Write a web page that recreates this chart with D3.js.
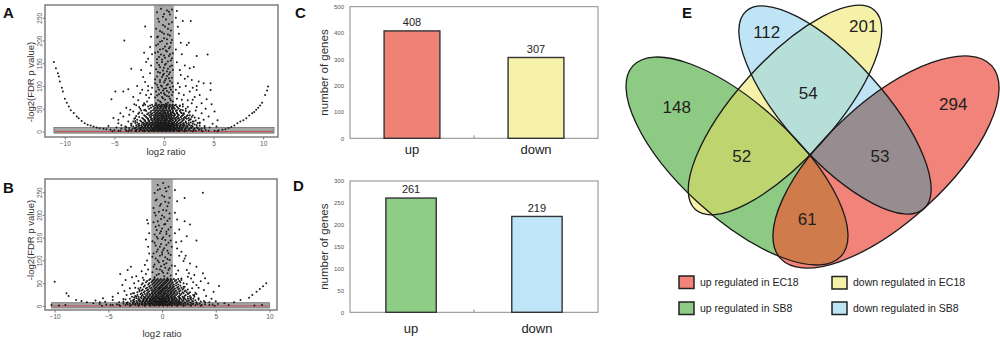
<!DOCTYPE html>
<html>
<head>
<meta charset="utf-8">
<script src="https://cdn.jsdelivr.net/npm/d3@7/dist/d3.min.js"></script>
<style>
  body { margin: 0; background: #fff; }
  svg { display: block; font-family: "Liberation Sans", Arial, sans-serif; }
</style>
</head>
<body>
<svg id="fig" width="1000" height="340"></svg>
<script>
// ---------- values ----------
const volcanoXTicks = [-10, -5, 0, 5, 10];
const volcanoYTicks = [0, 50, 100, 150, 200, 250];

// A (EC18): log2 ratio, -log2(FDR p)
const armA = [[-11.1,153],[-10.9,139],[-10.7,128],[-10.6,121],[-10.5,110],[-10.3,96],[-10.2,88],[-10.0,72],[-9.8,63],[-9.6,55],
  [-9.4,47],[-9.1,41],[-8.8,33],[-8.6,29],[-8.3,23],[-8.0,18],[-7.7,15],[-7.4,13],[-7.1,11],[-6.8,9],[-6.5,7],[-6.1,6],
  [-5.8,5],[-5.4,4],[-5.0,3],[-4.6,2],[10.5,99],[10.4,90],[10.2,80],[9.9,63],[9.7,57],[9.5,52],[9.3,48],[9.1,43],[8.9,40],
  [8.6,35],[8.3,29],[8.0,25],[7.7,22],[7.4,18],[7.1,13],[6.8,10],[6.5,8],[6.2,5],[5.9,4],[5.5,3],[5.1,2]];
const sparseA = [[-4.0,200],[-3.3,138],[-1.9,231],[-2.0,173],[-1.8,153],[-2.3,135],[-2.1,120],[-1.9,109],[-4.9,88],[-4.1,88],
  [-3.6,93],[-5.3,71],[-3.8,52],[-3.1,76],[-2.6,69],[-2.4,84],[-2.8,58],[-3.1,44],[-3.5,37],[-4.1,33],[-3.6,22],[-4.6,18],
  [1.9,243],[1.3,265],[2.7,243],[2.5,195],[2.3,190],[3.3,166],[4.4,169],[3.0,142],[2.6,139],[2.1,145],[1.7,124],[2.1,116],
  [2.4,121],[2.8,113],[4.7,106],[4.7,91],[4.0,106],[3.6,80],[3.1,76],[3.3,91],[2.6,88],[4.3,71],[3.8,62],[5.1,44],[3.8,40],
  [3.3,54],[2.8,62],[4.5,33],[4.0,26],[3.5,29],[2.4,69],[2.4,54],[2.4,36],[3.0,22],[4.9,17],[-1.4,186],[-1.3,208],[1.5,215],
  [1.8,170],[-1.6,100],[-2.7,100],[1.6,98],[2.0,80],[1.9,60],[-2.0,62],[-1.9,48],[3.5,110],[-2.9,30],[2.2,30]];
const haloA = [[-5.6,12],[-4.8,9],[-4.3,14],[-3.9,11],[-4.6,26],[-4.4,40],[-3.4,48],[-3.0,60],[-2.6,39],[-2.9,23],[-3.3,17],
  [-5.1,30],[-2.3,46],[-2.5,54],[-2.1,58],[-1.7,66],[-1.5,74],[-1.3,82],[-1.6,90],[-1.2,96],[-1.4,128],[-1.3,145],[-1.6,160],
  [-1.2,170],[-2.2,92],[-1.8,80],[1.3,72],[1.5,84],[1.2,92],[1.4,106],[1.6,135],[1.3,152],[1.2,180],[1.7,195],[1.4,230],
  [1.2,250],[1.8,70],[2.2,50],[2.6,44],[2.9,35],[3.2,46],[3.6,18],[4.1,12],[4.6,9],[3.4,8],[5.3,11],[2.7,27],[3.1,31],
  [2.0,40],[1.7,48],[1.6,56],[2.9,70],[3.3,100],[2.9,96],[2.2,100],[4.2,50],[4.8,60],[5.4,25]];
const columnA = [[-0.8,62],[-0.3,64],[0.4,63],[0.9,66],[-0.6,69],[0.1,70],[0.6,72],[-0.9,75],[-0.2,76],[0.3,78],[0.8,80],
  [-0.5,82],[0.0,84],[0.5,86],[-0.8,88],[-0.1,90],[0.7,92],[0.2,95],[-0.6,97],[0.9,99],[-0.3,101],[0.4,104],[-0.9,106],
  [0.0,108],[0.6,111],[-0.4,113],[0.2,116],[0.8,118],[-0.7,121],[-0.1,124],[0.5,126],[-0.4,129],[0.3,132],[0.9,135],
  [-0.8,137],[0.0,140],[0.6,143],[-0.5,146],[0.2,149],[-0.2,153],[0.7,156],[-0.7,159],[0.1,162],[0.5,166],[-0.3,169],
  [0.9,172],[-0.6,175],[0.2,178],[-0.1,182],[0.6,186],[-0.8,189],[0.3,193],[-0.4,197],[0.8,201],[0.0,205],[-0.6,209],
  [0.4,213],[-0.2,218],[0.7,222],[-0.8,226],[0.1,231],[0.5,236],[-0.5,241],[0.2,246],[-0.1,252],[0.6,257],[-0.7,262],
  [0.3,266],[-0.3,270],[0.8,268],[0.2,61],[-0.4,66],[0.7,68],[-0.1,73],[0.5,77],[-0.7,79],[0.1,81],[-0.3,85],[0.9,87],
  [0.3,89],[-0.5,92],[0.0,94],[0.6,97],[-0.2,99],[0.3,102],[-0.7,103],[0.8,107],[-0.4,109],[0.1,112],[-0.9,115],[0.5,117],
  [-0.2,120],[0.3,122],[0.0,127],[-0.6,131],[0.6,130],[-0.1,134],[0.4,138],[-0.4,141],[0.8,145],[0.1,147],[-0.7,151],
  [0.4,154],[-0.2,158],[0.8,161],[-0.5,164],[0.0,167],[0.6,170],[-0.9,173],[0.3,176],[-0.4,180],[0.5,183],[0.1,187],
  [-0.6,192],[0.7,195],[-0.2,199],[0.3,203],[-0.7,207],[0.6,211],[0.0,215],[-0.4,221],[0.4,226],[-0.1,234],[0.8,240],
  [-0.6,248],[0.0,258],[0.5,263]];
const coreRowsA = [
  [0.5, [-5.2,-3.6,-2.8,-2.0,-1.5,-1.0,-0.6,-0.2,0.2,0.6,1.0,1.5,2.1,2.9,3.9,5.4]],
  [2, [-4.4,-3.8,-3.3,-2.9,-2.5,-2.2,-1.9,-1.6,-1.3,-1.1,-0.8,-0.6,-0.4,-0.2,0,0.2,0.4,0.6,0.8,1.0,1.3,1.6,1.9,2.3,2.7,3.2,3.8,4.5]],
  [3.5, [-3.5,-2.8,-2.4,-2.0,-1.7,-1.4,-1.2,-0.9,-0.6,-0.4,-0.2,0,0.2,0.4,0.6,0.9,1.1,1.4,1.7,2.1,2.5,3.0,3.5,4.2]],
  [5, [-3.9,-3.2,-2.7,-2.3,-2.0,-1.7,-1.4,-1.1,-0.9,-0.7,-0.5,-0.3,-0.1,0.1,0.3,0.5,0.7,0.9,1.2,1.5,1.8,2.1,2.5,3.0,3.6]],
  [6.5, [-4.3,-3.0,-2.5,-2.1,-1.8,-1.5,-1.2,-1.0,-0.7,-0.5,-0.3,-0.1,0.1,0.3,0.5,0.7,1.0,1.2,1.5,1.8,2.2,2.6,3.1,3.8]],
  [8, [-3.5,-2.9,-2.4,-2.1,-1.8,-1.5,-1.2,-1.0,-0.8,-0.6,-0.4,-0.2,0,0.2,0.4,0.6,0.8,1.0,1.3,1.6,1.9,2.3,2.8,3.4,4.1]],
  [9.5, [-3.8,-2.8,-2.3,-1.9,-1.6,-1.3,-1.0,-0.8,-0.6,-0.4,-0.2,0,0.2,0.4,0.6,0.9,1.1,1.4,1.8,2.2,2.7,3.3]],
  [11, [-3.1,-2.6,-2.2,-1.9,-1.6,-1.3,-1.0,-0.7,-0.5,-0.3,-0.1,0.1,0.3,0.5,0.7,1.0,1.3,1.6,2.0,2.4,2.9]],
  [12.5, [-3.3,-2.5,-2.0,-1.7,-1.4,-1.2,-0.9,-0.7,-0.5,-0.2,0,0.2,0.4,0.6,0.8,1.1,1.3,1.6,1.9,2.3,2.8,3.6]],
  [14, [-2.8,-2.3,-1.9,-1.6,-1.3,-1.1,-0.8,-0.6,-0.4,-0.2,0,0.2,0.4,0.6,0.9,1.1,1.4,1.7,2.1,2.6,3.3]],
  [15.5, [-2.6,-2.1,-1.8,-1.5,-1.2,-0.9,-0.7,-0.5,-0.3,-0.1,0.1,0.3,0.5,0.8,1.0,1.3,1.7,2.0,2.5,3.1]],
  [17, [-3.3,-2.5,-2.0,-1.7,-1.4,-1.1,-0.9,-0.6,-0.4,-0.2,0,0.2,0.5,0.7,0.9,1.2,1.5,1.9,2.3,2.9]],
  [18.5, [-2.9,-2.2,-1.8,-1.5,-1.2,-0.9,-0.7,-0.4,-0.2,0.1,0.3,0.5,0.8,1.0,1.3,1.6,2.0,2.5,3.4]],
  [20, [-2.7,-2.1,-1.7,-1.3,-1.0,-0.7,-0.5,-0.3,-0.1,0.1,0.3,0.5,0.8,1.0,1.3,1.7,2.2,2.7,3.6]],
  [22, [-3.1,-2.3,-1.9,-1.5,-1.1,-0.8,-0.6,-0.3,0,0.2,0.5,0.7,1.1,1.4,1.8,2.2,2.9]],
  [24, [-2.4,-1.9,-1.5,-1.2,-0.9,-0.6,-0.4,-0.2,0,0.2,0.4,0.6,0.9,1.2,1.5,1.9,2.5,3.2]],
  [26, [-2.7,-2.0,-1.6,-1.3,-1.0,-0.7,-0.5,-0.2,0.1,0.3,0.6,0.8,1.2,1.6,2.0,2.6]],
  [28, [-3.0,-2.1,-1.6,-1.2,-0.9,-0.6,-0.3,-0.1,0.1,0.3,0.6,0.9,1.1,1.4,1.8,2.3]],
  [30, [-2.2,-1.7,-1.3,-1.0,-0.8,-0.5,-0.2,0,0.3,0.5,0.8,1.2,1.5,2.0,2.5]],
  [32, [-2.5,-1.8,-1.4,-1.0,-0.7,-0.4,-0.2,0,0.2,0.5,0.7,1.0,1.3,1.7,2.1,2.8]],
  [34, [-2.8,-1.9,-1.3,-0.9,-0.6,-0.3,-0.1,0.2,0.4,0.7,1.0,1.4,1.8,2.3]],
  [36, [-2.0,-1.5,-1.1,-0.8,-0.5,-0.2,0,0.3,0.5,0.8,1.1,1.5,1.9,2.6]],
  [38, [-1.7,-1.3,-0.9,-0.6,-0.3,-0.1,0.2,0.5,0.7,1.1,1.4,2.0]],
  [40, [-2.2,-1.6,-1.2,-0.8,-0.5,-0.3,0,0.2,0.4,0.7,1.0,1.3,1.8]],
  [42, [-2.5,-1.4,-1.0,-0.7,-0.4,-0.1,0.1,0.4,0.7,0.9,1.3,1.7,2.5]],
  [45, [-1.8,-1.3,-0.9,-0.6,-0.3,-0.1,0.1,0.4,0.6,0.9,1.2,1.6,2.2]],
  [47, [-2.0,-1.1,-0.8,-0.5,-0.2,0,0.3,0.6,0.9,1.3,1.9]],
  [50, [-2.4,-1.5,-1.0,-0.7,-0.4,-0.1,0.2,0.5,0.8,1.1,1.5]],
  [52, [-1.3,-0.9,-0.6,-0.3,0,0.2,0.5,0.8,1.0,1.4]],
  [55, [-1.6,-1.1,-0.7,-0.4,-0.2,0.1,0.3,0.6,0.9,1.3,1.9]],
  [57, [-2.1,-1.4,-0.9,-0.6,-0.3,0,0.2,0.5,0.8,1.1,1.6]],
  [59, [-1.9,-1.2,-0.8,-0.5,-0.2,0,0.3,0.6,0.9,1.2]]
];

// B (SB8)
const armB = [[-10.0,53],[-8.9,28],[-8.7,22],[-8.0,13],[-7.5,11],[-7.0,8],[-6.4,6],[-5.8,4],[-5.2,3],[-4.6,2],[9.7,50],
  [9.4,43],[9.1,37],[8.8,31],[8.4,24],[8.1,18],[7.3,13],[6.7,8],[5.8,6],[5.2,4],[4.7,3],[-10.3,2],[-9.6,1],[-9.0,2],
  [8.6,1],[9.3,2],[6.2,2]];
const sparseB = [[3.8,249],[2.1,237],[2.1,186],[2.6,179],[2.3,153],[3.2,144],[1.8,142],[-1.4,189],[-1.3,181],[1.4,126],
  [1.8,119],[2.1,104],[2.0,99],[2.6,93],[3.2,86],[2.3,79],[3.8,72],[4.0,61],[3.6,54],[5.3,44],[4.3,50],[3.2,46],[2.8,39],
  [3.9,35],[4.8,31],[-2.9,86],[-3.2,79],[-3.9,70],[-1.6,90],[-1.9,76],[-2.4,65],[-3.4,57],[-3.7,46],[-3.0,39],[-4.1,28],
  [-4.6,20],[-5.5,17],[-6.2,12],[-2.1,35],[1.2,205],[-1.2,160],[1.6,168],[2.7,60],[-2.6,50],[2.2,110],[1.4,230],[1.2,255]];
const haloB = [[-5.3,9],[-4.6,13],[-4.0,8],[-3.6,15],[-3.3,24],[-3.5,33],[-2.7,28],[-2.5,40],[-2.2,55],[-2.8,63],[-1.8,62],
  [-1.5,70],[-1.3,80],[-1.4,100],[-1.2,115],[-1.3,130],[-1.5,146],[-2.4,20],[-5.8,8],[1.3,70],[1.5,78],[1.2,88],[1.6,110],
  [1.3,140],[1.2,160],[1.4,190],[1.8,60],[2.3,48],[2.6,30],[3.0,24],[3.4,17],[3.9,11],[4.4,8],[5.0,10],[2.4,64],[2.9,52],
  [3.4,40],[3.1,29],[2.0,42],[1.7,52],[4.1,22],[4.6,16],[2.5,72],[3.0,68]];
const columnB = [[-0.7,63],[0.2,65],[0.8,67],[-0.3,70],[0.5,72],[-0.9,74],[0.0,77],[0.6,79],[-0.5,81],[0.3,84],[-0.1,87],
  [0.9,89],[-0.7,91],[0.4,94],[-0.3,96],[0.1,99],[0.7,101],[-0.6,104],[0.3,107],[-0.2,110],[0.8,112],[-0.8,115],[0.0,118],
  [0.5,121],[-0.4,124],[0.2,127],[0.9,130],[-0.6,133],[-0.1,136],[0.6,139],[-0.9,142],[0.3,145],[-0.4,148],[0.1,151],
  [0.7,154],[-0.7,157],[-0.2,160],[0.4,163],[-0.5,167],[0.0,170],[0.8,173],[-0.3,177],[0.3,180],[-0.8,184],[0.5,187],
  [-0.1,191],[0.2,195],[-0.6,199],[0.7,203],[-0.3,207],[0.1,211],[-0.8,215],[0.5,219],[-0.1,224],[0.3,229],[-0.5,234],
  [0.7,238],[0.0,243],[-0.7,248],[0.4,252],[-0.2,257],[0.6,262],[-0.4,266],[0.1,270],[0.5,61],[-0.5,68],[0.1,73],[-0.2,80],
  [0.7,83],[-0.8,86],[0.2,91],[-0.4,100],[0.5,103],[-0.9,108],[0.0,113],[0.6,116],[-0.5,119],[0.1,123],[-0.2,130],[0.4,134],
  [-0.7,139],[0.8,144],[0.0,147],[-0.5,152],[0.4,158],[-0.1,164],[0.6,168],[-0.6,174],[0.2,179],[-0.4,186],[0.7,192],
  [0.0,199],[-0.7,205],[0.4,210],[-0.2,220],[0.6,227],[-0.6,232],[0.2,240],[-0.4,255],[0.3,259]];
const coreRowsB = [
  [0.5, [-5.6,-3.9,-3.0,-2.2,-1.6,-1.1,-0.7,-0.3,0.1,0.5,0.9,1.4,2.0,2.7,3.6,4.9]],
  [2, [-4.8,-4.0,-3.4,-2.9,-2.5,-2.1,-1.8,-1.5,-1.2,-0.9,-0.7,-0.5,-0.3,-0.1,0.1,0.3,0.5,0.7,0.9,1.2,1.5,1.8,2.2,2.6,3.1,3.7,4.4]],
  [3.5, [-4.2,-3.2,-2.7,-2.3,-1.9,-1.6,-1.3,-1.1,-0.8,-0.6,-0.4,-0.2,0,0.2,0.4,0.6,0.8,1.1,1.4,1.7,2.0,2.4,2.8,3.3,4.0]],
  [5, [-3.6,-3.0,-2.5,-2.1,-1.8,-1.5,-1.2,-1.0,-0.8,-0.6,-0.4,-0.2,0,0.2,0.4,0.6,0.8,1.0,1.3,1.6,2.0,2.4,2.9,3.5]],
  [6.5, [-3.3,-2.7,-2.3,-1.9,-1.6,-1.3,-1.1,-0.9,-0.6,-0.4,-0.2,0,0.2,0.4,0.7,0.9,1.2,1.5,1.8,2.2,2.7,3.2]],
  [8, [-3.2,-2.7,-2.3,-1.9,-1.6,-1.3,-1.0,-0.7,-0.5,-0.3,-0.1,0.1,0.3,0.5,0.8,1.1,1.4,1.7,2.1,2.6,3.2,4.0]],
  [9.5, [-3.6,-2.6,-2.1,-1.8,-1.5,-1.2,-0.9,-0.7,-0.5,-0.3,-0.1,0.1,0.3,0.5,0.7,1.0,1.3,1.6,1.9,2.4,2.9,3.6]],
  [11, [-2.9,-2.4,-2.0,-1.7,-1.4,-1.1,-0.8,-0.6,-0.4,-0.2,0,0.2,0.4,0.6,0.9,1.2,1.5,1.9,2.3,2.8]],
  [12.5, [-2.7,-2.2,-1.8,-1.5,-1.2,-1.0,-0.7,-0.5,-0.2,0,0.2,0.4,0.7,1.0,1.3,1.6,2.0,2.5,3.1]],
  [14, [-3.4,-2.6,-2.1,-1.7,-1.4,-1.1,-0.9,-0.6,-0.3,-0.1,0.1,0.3,0.6,0.9,1.1,1.4,1.8,2.2,2.7,3.4]],
  [15.5, [-3.0,-2.2,-1.7,-1.4,-1.1,-0.8,-0.6,-0.3,-0.1,0.1,0.4,0.6,0.9,1.2,1.6,2.0,2.4,2.9]],
  [17, [-2.4,-1.9,-1.5,-1.2,-0.9,-0.7,-0.4,-0.2,0,0.2,0.5,0.7,1.0,1.3,1.7,2.1,2.6]],
  [18.5, [-2.6,-2.0,-1.6,-1.3,-1.0,-0.8,-0.5,-0.3,0.1,0.3,0.6,0.9,1.2,1.6,2.0,2.7]],
  [20, [-2.8,-2.2,-1.7,-1.3,-1.0,-0.7,-0.5,-0.2,0,0.3,0.5,0.8,1.1,1.5,1.9,2.4,3.0]],
  [22, [-2.5,-1.9,-1.5,-1.2,-0.9,-0.6,-0.4,-0.1,0.1,0.4,0.6,0.9,1.2,1.6,2.1,2.6]],
  [24, [-2.3,-1.8,-1.4,-1.1,-0.8,-0.5,-0.3,0,0.2,0.5,0.7,1.0,1.3,1.7,2.2,2.9]],
  [26, [-2.9,-2.0,-1.6,-1.2,-0.9,-0.6,-0.3,-0.1,0.2,0.4,0.8,1.1,1.4,1.8,2.4,3.2]],
  [28, [-2.6,-1.9,-1.4,-1.0,-0.7,-0.4,-0.2,0.1,0.3,0.6,0.9,1.2,1.6,2.0,2.5]],
  [30, [-2.3,-1.7,-1.3,-0.9,-0.6,-0.3,-0.1,0.2,0.5,0.8,1.1,1.4,1.9,2.3]],
  [32, [-2.1,-1.6,-1.2,-0.8,-0.5,-0.2,0,0.3,0.6,0.9,1.2,1.6,2.1]],
  [34, [-1.9,-1.4,-1.0,-0.7,-0.4,-0.1,0.1,0.4,0.7,1.0,1.3,1.7,2.2]],
  [36, [-1.8,-1.3,-0.9,-0.6,-0.3,0,0.2,0.5,0.8,1.1,1.5,1.9,2.4]],
  [38, [-2.2,-1.5,-1.1,-0.7,-0.4,-0.2,0.1,0.3,0.6,0.9,1.2,1.6,2.0]],
  [40, [-2.0,-1.4,-1.0,-0.6,-0.3,-0.1,0.2,0.4,0.7,1.0,1.4,1.8]],
  [42, [-1.7,-1.2,-0.8,-0.5,-0.2,0,0.3,0.5,0.8,1.1,1.5,2.1]],
  [45, [-1.6,-1.1,-0.7,-0.4,-0.1,0.1,0.4,0.7,1.0,1.3,1.7]],
  [47, [-1.9,-1.3,-0.9,-0.6,-0.3,0,0.2,0.5,0.8,1.1,1.5]],
  [50, [-1.8,-1.2,-0.8,-0.5,-0.2,0.1,0.3,0.6,0.9,1.3,2.0]],
  [52, [-1.5,-1.0,-0.7,-0.4,-0.1,0.2,0.4,0.7,1.0,1.4]],
  [55, [-1.4,-0.9,-0.6,-0.3,0,0.3,0.5,0.8,1.2,1.6]],
  [57, [-1.7,-1.2,-0.8,-0.5,-0.2,0.1,0.4,0.6,0.9,1.3,1.8]],
  [59, [-1.1,-0.7,-0.4,-0.1,0.2,0.5,0.8,1.1,1.5]]
];

// C / D bar charts
const barCategories = ["up", "down"];
const countsEC18 = [408, 307];
const countsSB8 = [261, 219];
const barTicksC = [0, 100, 200, 300, 400, 500];
const barTicksD = [0, 50, 100, 150, 200, 250, 300];

// E venn
const vennSets = ["up regulated in EC18", "down regulated in EC18", "up regulated in SB8", "down regulated in SB8"];
const vennRegions = ["SB8 up", "SB8 down", "EC18 down", "EC18 up", "SB8 up + EC18 down", "SB8 down + EC18 down", "SB8 down + EC18 up", "SB8 up + EC18 up"];
const vennCounts = [148, 112, 201, 294, 52, 54, 53, 61];

// ---------- drawing ----------
const svg = d3.select("#fig");
const ink = "#1a1a1a";

const rowsToPoints = rows => rows.flatMap(([y, xs]) => xs.map(x => [x, y]));

function panelLetter(t, x, y) {
  svg.append("text").attr("x", x).attr("y", y).text(t)
    .attr("font-size", 15).attr("font-weight", "bold").attr("fill", "#111");
}

function drawVolcano(pts, box, xDom, yDom, hBandX, hBandY, labelPos) {
  const g = svg.append("g");
  const x = d3.scaleLinear().domain(xDom).range([box.left, box.right]);
  const y = d3.scaleLinear().domain(yDom).range([box.bottom, box.top]);

  // vertical |log2 ratio| < 1 band
  g.append("rect")
    .attr("x", x(-1)).attr("width", x(1) - x(-1))
    .attr("y", box.top).attr("height", y(hBandY[1]) - box.top)
    .attr("fill", "#a9a9a9");
  // horizontal band + red zero line
  g.append("rect")
    .attr("x", x(hBandX[0])).attr("width", x(hBandX[1]) - x(hBandX[0]))
    .attr("y", y(hBandY[1])).attr("height", y(hBandY[0]) - y(hBandY[1]))
    .attr("fill", "#a4a4a4").attr("stroke", "#6e6e6e").attr("stroke-width", 0.8);
  g.append("line")
    .attr("x1", x(hBandX[0]) + 1).attr("x2", x(hBandX[1]) - 1)
    .attr("y1", y(0)).attr("y2", y(0))
    .attr("stroke", "#c0504d").attr("stroke-width", 1);

  g.append("g").selectAll("circle").data(pts).join("circle")
    .attr("cx", d => x(d[0])).attr("cy", d => y(d[1]))
    .attr("r", 1.0).attr("fill", ink);

  g.append("rect")
    .attr("x", box.left).attr("y", box.top)
    .attr("width", box.right - box.left).attr("height", box.bottom - box.top)
    .attr("fill", "none").attr("stroke", "#7d7d7d").attr("stroke-width", 1.5);

  const xa = g.append("g").attr("transform", `translate(0,${box.bottom})`)
    .call(d3.axisBottom(x).tickValues(volcanoXTicks).tickSize(2.5).tickPadding(1.5));
  xa.select(".domain").remove();
  xa.selectAll("line").attr("stroke", "#777");
  xa.selectAll("text").attr("font-size", 6.5).attr("fill", "#555").attr("font-family", null);

  const ya = g.append("g").attr("transform", `translate(${box.left},0)`)
    .call(d3.axisLeft(y).tickValues(volcanoYTicks).tickSize(2));
  ya.select(".domain").remove();
  ya.selectAll("line").attr("stroke", "#777");
  ya.selectAll("text")
    .attr("transform", "rotate(-90)")
    .attr("x", 0).attr("y", -3).attr("dy", 0)
    .attr("text-anchor", "middle")
    .attr("font-size", 6.5).attr("fill", "#555").attr("font-family", null);

  g.append("text").attr("x", labelPos.xl[0]).attr("y", labelPos.xl[1])
    .attr("text-anchor", "middle").attr("font-size", 9.5).attr("fill", "#333")
    .text("log2 ratio");
  g.append("text")
    .attr("transform", `translate(${labelPos.yl[0]},${labelPos.yl[1]}) rotate(-90)`)
    .attr("text-anchor", "middle").attr("font-size", 9.5).attr("fill", "#333")
    .text("-log2(FDR p value)");
}

drawVolcano(
  armA.concat(sparseA, haloA, columnA, rowsToPoints(coreRowsA)),
  {left: 45, right: 278, top: 5, bottom: 137},
  [-12, 11.5], [-12, 278], [-11.1, 11.1], [-3.5, 8.8],
  {xl: [166, 154.5], yl: [34, 82]}
);
drawVolcano(
  armB.concat(sparseB, haloB, columnB, rowsToPoints(coreRowsB)),
  {left: 45, right: 277, top: 179, bottom: 310},
  [-10.9, 10.7], [-9, 279], [-10.3, 10.0], [-4.6, 7.0],
  {xl: [162, 336.5], yl: [34, 240]}
);

function drawBars(counts, fills, box, yMax, ticks, catY, padIn, padOut) {
  const g = svg.append("g");
  const x = d3.scaleBand().domain(barCategories).range([box.left, box.right])
    .paddingInner(padIn).paddingOuter(padOut);
  const y = d3.scaleLinear().domain([0, yMax]).range([box.bottom, box.top]);

  g.append("rect")
    .attr("x", box.left).attr("y", y(yMax))
    .attr("width", box.right - box.left).attr("height", box.bottom - y(yMax))
    .attr("fill", "none").attr("stroke", "#8a8a8a").attr("stroke-width", 1);

  g.selectAll(".bar").data(barCategories).join("rect")
    .attr("x", d => x(d)).attr("width", x.bandwidth())
    .attr("y", (d, i) => y(counts[i])).attr("height", (d, i) => y(0) - y(counts[i]))
    .attr("fill", (d, i) => fills[i]).attr("stroke", "#333").attr("stroke-width", 1.4);

  g.selectAll(".val").data(barCategories).join("text")
    .attr("x", d => x(d) + x.bandwidth() / 2).attr("y", (d, i) => y(counts[i]) - 4.7)
    .attr("text-anchor", "middle").attr("font-size", 11).attr("fill", "#222")
    .text((d, i) => counts[i]);

  g.selectAll(".cat").data(barCategories).join("text")
    .attr("x", d => x(d) + x.bandwidth() / 2).attr("y", catY)
    .attr("text-anchor", "middle").attr("font-size", 13).attr("fill", "#222")
    .text(d => d);

  // small divider tick on the baseline
  const mid = (x("up") + x.bandwidth() + x("down")) / 2;
  g.append("line").attr("x1", mid).attr("x2", mid)
    .attr("y1", box.bottom).attr("y2", box.bottom - 3).attr("stroke", "#8a8a8a");

  const ya = g.append("g").attr("transform", `translate(${box.left},0)`)
    .call(d3.axisLeft(y).tickValues(ticks).tickSize(0).tickPadding(6));
  ya.select(".domain").remove();
  ya.selectAll("text").attr("font-size", 6).attr("fill", "#555").attr("font-family", null);

  g.append("text")
    .attr("transform", `translate(${box.left - 22},${(box.top + box.bottom) / 2}) rotate(-90)`)
    .attr("text-anchor", "middle").attr("font-size", 11.5).attr("fill", "#333")
    .text("number of genes");
}

drawBars(countsEC18, ["#f08275", "#f6f2aa"], {left: 350, right: 598, top: 6.7, bottom: 138.3},
  500, barTicksC, 153.5, 0.55, 0.275);
drawBars(countsSB8, ["#8ecd86", "#bfe5f8"], {left: 350, right: 598, top: 181, bottom: 312.3},
  300, barTicksD, 332.5, 0.6, 0.285);

// ---------- Venn ----------
const vennColors = ["#f1837a", "#f6f1a9", "#8dca84", "#bfe4f6"];
const ellipses = [
  {cx: 886, cy: 162, rx: 143, ry: 60, rot: -42.4},  // up EC18
  {cx: 785, cy: 110, rx: 134, ry: 49, rot: -48},    // down EC18
  {cx: 737, cy: 161, rx: 141, ry: 57, rot: 42.4},   // up SB8
  {cx: 835, cy: 110, rx: 133, ry: 49, rot: 48}      // down SB8
];
const overlapColors = {"0&2": "#cf7b4b", "1&3": "#b6dfd8", "1&2": "#bed56f", "3&0": "#978c90"};
const regionLabelPos = [[676.7, 106.7], [766.7, 31.7], [863.3, 26], [953.3, 104],
  [741.7, 156], [808.3, 92.7], [880, 156], [807.3, 219.3]];

const defs = svg.append("defs");
ellipses.forEach((e, i) => {
  defs.append("clipPath").attr("id", "clip" + i).append("ellipse")
    .attr("rx", e.rx).attr("ry", e.ry)
    .attr("transform", `translate(${e.cx},${e.cy}) rotate(${e.rot})`);
});
const vg = svg.append("g");
function ell(i, fill, clip) {
  const e = ellipses[i];
  const el = vg.append("ellipse").attr("rx", e.rx).attr("ry", e.ry)
    .attr("transform", `translate(${e.cx},${e.cy}) rotate(${e.rot})`)
    .attr("fill", fill);
  if (clip !== undefined) {
    vg.append("g").attr("clip-path", `url(#clip${clip})`).node().appendChild(el.node());
  }
  return el;
}
ell(2, vennColors[2]);
ell(0, vennColors[0]);
ell(0, overlapColors["0&2"], 2);
ell(3, vennColors[3]);
ell(1, vennColors[1]);
ell(1, overlapColors["1&3"], 3);
ell(1, overlapColors["1&2"], 2);
ell(3, overlapColors["3&0"], 0);
[2, 0, 3, 1].forEach(i => ell(i, "none").attr("stroke", ink).attr("stroke-width", 1.3));

vg.selectAll(".cnt").data(vennCounts).join("text")
  .attr("x", (d, i) => regionLabelPos[i][0]).attr("y", (d, i) => regionLabelPos[i][1])
  .attr("dy", "0.36em").attr("text-anchor", "middle")
  .attr("font-size", 17).attr("fill", "#231f20")
  .text(d => d);

// legend
const legendPos = [[679, 276], [832, 276.5], [679, 302], [832, 302]];
const lg = svg.append("g");
lg.selectAll("rect").data(vennSets).join("rect")
  .attr("x", (d, i) => legendPos[i][0]).attr("y", (d, i) => legendPos[i][1])
  .attr("width", 15).attr("height", 12.5)
  .attr("fill", (d, i) => vennColors[i]).attr("stroke", "#222").attr("stroke-width", 1.5);
lg.selectAll("text").data(vennSets).join("text")
  .attr("x", (d, i) => legendPos[i][0] + 21).attr("y", (d, i) => legendPos[i][1] + 9.5)
  .attr("font-size", 10.5).attr("fill", "#222")
  .text(d => d);

panelLetter("A", 3, 18);
panelLetter("B", 3, 193);
panelLetter("C", 295, 18);
panelLetter("D", 293, 191);
panelLetter("E", 682, 18);
</script>
</body>
</html>
